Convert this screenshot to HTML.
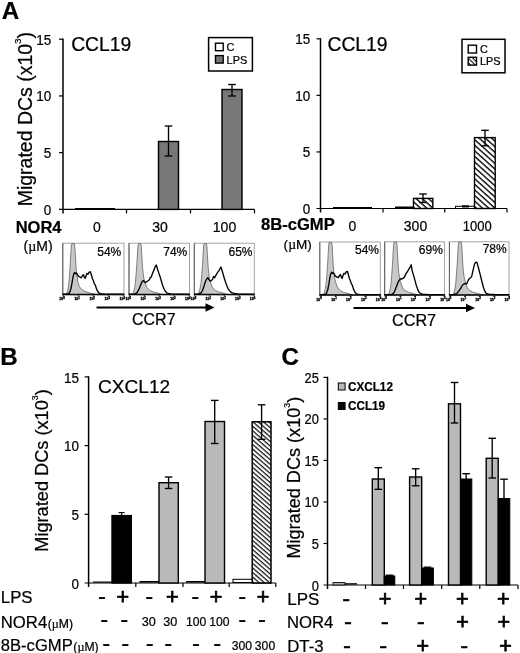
<!DOCTYPE html>
<html><head><meta charset="utf-8"><title>Figure</title>
<style>
html,body{margin:0;padding:0;background:#fff;}
svg{display:block;font-family:"Liberation Sans", Arial, sans-serif;fill:#000;filter:grayscale(1);}
text{stroke:#000;stroke-width:0.22px;}
</style></head><body>
<svg width="520" height="653" viewBox="0 0 520 653">
<rect x="0" y="0" width="520" height="653" fill="#fff" stroke="none"/>
<defs>
<pattern id="hatch" patternUnits="userSpaceOnUse" width="8" height="4.15" patternTransform="rotate(42) translate(0,1.2)">
<rect x="0" y="0" width="8" height="4.15" fill="#fff"/>
<rect x="0" y="0" width="8" height="1.45" fill="#111"/>
</pattern>
<pattern id="hatchB" patternUnits="userSpaceOnUse" width="8" height="3.45" patternTransform="rotate(41)">
<rect x="0" y="0" width="8" height="3.45" fill="#fff"/>
<rect x="0" y="0" width="8" height="1.25" fill="#111"/>
</pattern>
<pattern id="hatchL" patternUnits="userSpaceOnUse" width="8" height="3.2" patternTransform="rotate(45) translate(0,0.6)">
<rect x="0" y="0" width="8" height="3.2" fill="#fff"/>
<rect x="0" y="0" width="8" height="1.1" fill="#111"/>
</pattern>
</defs>
<text x="1.7" y="19.4" font-size="24.2" font-weight="bold">A</text>
<text x="0.3" y="364.5" font-size="24.2" font-weight="bold">B</text>
<text x="281.4" y="364.8" font-size="24.2" font-weight="bold">C</text>
<line x1="63" y1="38.6" x2="63" y2="213.4" stroke="#000" stroke-width="1.5"/>
<line x1="59" y1="209.4" x2="254.5" y2="209.4" stroke="#000" stroke-width="1.2"/>
<line x1="59" y1="152.66666666666669" x2="63" y2="152.66666666666669" stroke="#000" stroke-width="1.2"/>
<line x1="59" y1="95.93333333333334" x2="63" y2="95.93333333333334" stroke="#000" stroke-width="1.2"/>
<line x1="59" y1="39.20000000000002" x2="63" y2="39.20000000000002" stroke="#000" stroke-width="1.2"/>
<line x1="126.5" y1="209.4" x2="126.5" y2="213.4" stroke="#000" stroke-width="1.2"/>
<line x1="190.5" y1="209.4" x2="190.5" y2="213.4" stroke="#000" stroke-width="1.2"/>
<line x1="254.5" y1="209.4" x2="254.5" y2="213.4" stroke="#000" stroke-width="1.2"/>
<text transform="translate(51.3,214.8) scale(0.95,1)" font-size="14.2" text-anchor="end">0</text>
<text transform="translate(51.3,158.0666666666667) scale(0.95,1)" font-size="14.2" text-anchor="end">5</text>
<text transform="translate(51.3,101.33333333333334) scale(0.95,1)" font-size="14.2" text-anchor="end">10</text>
<text transform="translate(51.3,44.600000000000016) scale(0.95,1)" font-size="14.2" text-anchor="end">15</text>
<text transform="translate(32,119.2) rotate(-90)" font-size="19.5" text-anchor="middle">Migrated DCs (x10<tspan dy="-10.7" font-size="9.4">3</tspan><tspan dy="10.7">)</tspan></text>
<text x="71.2" y="51.2" font-size="19.3" text-anchor="start" font-weight="normal" >CCL19</text>
<rect x="208.60" y="37.60" width="43.80" height="33.40" fill="#fff" stroke="#000" stroke-width="1.5"/>
<rect x="215.50" y="43.20" width="7.70" height="7.50" fill="#fff" stroke="#000" stroke-width="1.4"/>
<rect x="215.50" y="55.60" width="7.70" height="7.50" fill="#777777" stroke="#000" stroke-width="1.4"/>
<text x="226.6" y="50.7" font-size="10.9" text-anchor="start" font-weight="normal" >C</text>
<text x="226.6" y="63.5" font-size="10.9" text-anchor="start" font-weight="normal" >LPS</text>
<rect x="158.50" y="141.50" width="20.00" height="67.90" fill="#777777" stroke="#000" stroke-width="1.4"/>
<line x1="168.5" y1="126" x2="168.5" y2="156" stroke="#000" stroke-width="1.35"/>
<line x1="164.7" y1="126" x2="172.3" y2="126" stroke="#000" stroke-width="1.35"/>
<line x1="164.7" y1="156" x2="172.3" y2="156" stroke="#000" stroke-width="1.35"/>
<rect x="222.00" y="89.50" width="20.00" height="119.90" fill="#777777" stroke="#000" stroke-width="1.4"/>
<line x1="232" y1="84.5" x2="232" y2="96" stroke="#000" stroke-width="1.35"/>
<line x1="228.2" y1="84.5" x2="235.8" y2="84.5" stroke="#000" stroke-width="1.35"/>
<line x1="228.2" y1="96" x2="235.8" y2="96" stroke="#000" stroke-width="1.35"/>
<line x1="75" y1="208.5" x2="115" y2="208.5" stroke="#000" stroke-width="1.2"/>
<text x="15.7" y="232.8" font-size="16.5" text-anchor="start" font-weight="bold" >NOR4</text>
<text x="23.5" y="251" font-size="14" text-anchor="start" font-weight="normal" >(<tspan font-family="Liberation Serif, serif">µ</tspan>M)</text>
<text x="97" y="232.3" font-size="14" text-anchor="middle" font-weight="normal" >0</text>
<text x="160" y="232.3" font-size="14" text-anchor="middle" font-weight="normal" >30</text>
<text x="224.5" y="232.3" font-size="14" text-anchor="middle" font-weight="normal" >100</text>
<line x1="320.5" y1="38.199999999999996" x2="320.5" y2="212.5" stroke="#000" stroke-width="1.5"/>
<line x1="316.5" y1="208.5" x2="507" y2="208.5" stroke="#000" stroke-width="1.2"/>
<line x1="316.5" y1="151.93333333333334" x2="320.5" y2="151.93333333333334" stroke="#000" stroke-width="1.2"/>
<line x1="316.5" y1="95.36666666666666" x2="320.5" y2="95.36666666666666" stroke="#000" stroke-width="1.2"/>
<line x1="316.5" y1="38.80000000000001" x2="320.5" y2="38.80000000000001" stroke="#000" stroke-width="1.2"/>
<line x1="383" y1="208.5" x2="383" y2="212.5" stroke="#000" stroke-width="1.2"/>
<line x1="444.8" y1="208.5" x2="444.8" y2="212.5" stroke="#000" stroke-width="1.2"/>
<line x1="507" y1="208.5" x2="507" y2="212.5" stroke="#000" stroke-width="1.2"/>
<text transform="translate(310.2,213.7) scale(0.95,1)" font-size="14.2" text-anchor="end">0</text>
<text transform="translate(310.2,157.13333333333333) scale(0.95,1)" font-size="14.2" text-anchor="end">5</text>
<text transform="translate(310.2,100.56666666666666) scale(0.95,1)" font-size="14.2" text-anchor="end">10</text>
<text transform="translate(310.2,44.000000000000014) scale(0.95,1)" font-size="14.2" text-anchor="end">15</text>
<text x="327.5" y="51.2" font-size="19.3" text-anchor="start" font-weight="normal" >CCL19</text>
<rect x="462.00" y="39.30" width="43.00" height="33.50" fill="#fff" stroke="#000" stroke-width="1.5"/>
<rect x="468.20" y="45.20" width="8.30" height="7.80" fill="#fff" stroke="#000" stroke-width="1.4"/>
<rect x="468.20" y="57.30" width="8.30" height="7.80" fill="url(#hatchL)" stroke="#000" stroke-width="1.4"/>
<text x="480" y="52.7" font-size="10.9" text-anchor="start" font-weight="normal" >C</text>
<text x="480" y="65.2" font-size="10.9" text-anchor="start" font-weight="normal" >LPS</text>
<line x1="333" y1="207.6" x2="372" y2="207.6" stroke="#000" stroke-width="1.2"/>
<line x1="395" y1="207.3" x2="413.5" y2="207.3" stroke="#000" stroke-width="1.6"/>
<rect x="413.50" y="198.40" width="19.30" height="10.10" fill="url(#hatch)" stroke="#000" stroke-width="1.4"/>
<line x1="423" y1="194" x2="423" y2="202.5" stroke="#000" stroke-width="1.35"/>
<line x1="419.2" y1="194" x2="426.8" y2="194" stroke="#000" stroke-width="1.35"/>
<line x1="419.2" y1="202.5" x2="426.8" y2="202.5" stroke="#000" stroke-width="1.35"/>
<rect x="455.50" y="206.30" width="19.00" height="2.20" fill="#fff" stroke="#000" stroke-width="1"/>
<line x1="462" y1="206.4" x2="469" y2="206.4" stroke="#000" stroke-width="2.2"/>
<rect x="474.50" y="137.60" width="20.70" height="70.90" fill="url(#hatch)" stroke="#000" stroke-width="1.4"/>
<line x1="485" y1="130.3" x2="485" y2="145.8" stroke="#000" stroke-width="1.35"/>
<line x1="481.2" y1="130.3" x2="488.8" y2="130.3" stroke="#000" stroke-width="1.35"/>
<line x1="481.2" y1="145.8" x2="488.8" y2="145.8" stroke="#000" stroke-width="1.35"/>
<rect x="62.8" y="243.2" width="61.2" height="51.3" fill="#fff" stroke="#9a9a9a" stroke-width="0.9"/>
<line x1="62.8" y1="243.2" x2="62.8" y2="294.5" stroke="#5a5a5a" stroke-width="1.0"/>
<polygon points="65.3,294.5 66.8,293.5 68.0,289.2 68.8,283.8 69.6,274.2 70.2,265.0 70.8,254.2 71.3,246.2 71.8,243.6 74.4,243.6 74.8,246.2 75.4,255.2 75.9,265.2 76.5,271.7 77.2,277.2 78.0,282.2 79.4,286.7 81.4,289.0 84.8,291.4 88.8,292.8 92.4,293.5 95.8,294.5" fill="#c8c8c8" stroke="#5c5c5c" stroke-width="0.75"/>
<polyline points="62.8,294.1 67.8,293.8 69.3,293.2 70.8,289.2 71.8,284.2 72.8,278.2 73.7,274.2 74.6,272.4 75.4,273.7 76.2,273.0 77.3,274.2 78.3,276.2 79.8,277.0 81.3,277.8 82.4,275.7 83.4,274.7 84.4,277.4 85.2,278.4 86.0,275.7 87.0,273.5 88.0,274.2 89.1,272.2 90.4,271.8 91.2,274.2 92.4,278.5 93.4,280.7 94.4,283.8 95.4,285.2 96.4,288.6 97.4,290.7 98.5,292.6 100.3,293.6 102.8,294.0 123.8,294.1" fill="none" stroke="#000" stroke-width="1.35" stroke-linejoin="round"/>
<line x1="62.3" y1="294.5" x2="124.5" y2="294.5" stroke="#000" stroke-width="1.3"/>
<line x1="63.3" y1="294.5" x2="63.3" y2="296.5" stroke="#222" stroke-width="0.9"/>
<text x="62.099999999999994" y="300.3" font-size="3.5" font-weight="bold" text-anchor="middle" fill="#000" style="stroke-width:0.3px">10<tspan dy="-1.6" font-size="2.8">0</tspan></text>
<line x1="78.35" y1="294.5" x2="78.35" y2="296.5" stroke="#222" stroke-width="0.9"/>
<text x="77.14999999999999" y="300.3" font-size="3.5" font-weight="bold" text-anchor="middle" fill="#000" style="stroke-width:0.3px">10<tspan dy="-1.6" font-size="2.8">1</tspan></text>
<line x1="93.4" y1="294.5" x2="93.4" y2="296.5" stroke="#222" stroke-width="0.9"/>
<text x="92.2" y="300.3" font-size="3.5" font-weight="bold" text-anchor="middle" fill="#000" style="stroke-width:0.3px">10<tspan dy="-1.6" font-size="2.8">2</tspan></text>
<line x1="108.45" y1="294.5" x2="108.45" y2="296.5" stroke="#222" stroke-width="0.9"/>
<text x="107.25" y="300.3" font-size="3.5" font-weight="bold" text-anchor="middle" fill="#000" style="stroke-width:0.3px">10<tspan dy="-1.6" font-size="2.8">3</tspan></text>
<line x1="123.5" y1="294.5" x2="123.5" y2="296.5" stroke="#222" stroke-width="0.9"/>
<text x="122.3" y="300.3" font-size="3.5" font-weight="bold" text-anchor="middle" fill="#000" style="stroke-width:0.3px">10<tspan dy="-1.6" font-size="2.8">4</tspan></text>
<line x1="67.815" y1="294.5" x2="67.815" y2="295.6" stroke="#555" stroke-width="0.4"/>
<line x1="70.524" y1="294.5" x2="70.524" y2="295.6" stroke="#555" stroke-width="0.4"/>
<line x1="72.33" y1="294.5" x2="72.33" y2="295.6" stroke="#555" stroke-width="0.4"/>
<line x1="73.835" y1="294.5" x2="73.835" y2="295.6" stroke="#555" stroke-width="0.4"/>
<line x1="75.039" y1="294.5" x2="75.039" y2="295.6" stroke="#555" stroke-width="0.4"/>
<line x1="76.0925" y1="294.5" x2="76.0925" y2="295.6" stroke="#555" stroke-width="0.4"/>
<line x1="76.845" y1="294.5" x2="76.845" y2="295.6" stroke="#555" stroke-width="0.4"/>
<line x1="77.5975" y1="294.5" x2="77.5975" y2="295.6" stroke="#555" stroke-width="0.4"/>
<line x1="82.865" y1="294.5" x2="82.865" y2="295.6" stroke="#555" stroke-width="0.4"/>
<line x1="85.574" y1="294.5" x2="85.574" y2="295.6" stroke="#555" stroke-width="0.4"/>
<line x1="87.38" y1="294.5" x2="87.38" y2="295.6" stroke="#555" stroke-width="0.4"/>
<line x1="88.88499999999999" y1="294.5" x2="88.88499999999999" y2="295.6" stroke="#555" stroke-width="0.4"/>
<line x1="90.089" y1="294.5" x2="90.089" y2="295.6" stroke="#555" stroke-width="0.4"/>
<line x1="91.1425" y1="294.5" x2="91.1425" y2="295.6" stroke="#555" stroke-width="0.4"/>
<line x1="91.895" y1="294.5" x2="91.895" y2="295.6" stroke="#555" stroke-width="0.4"/>
<line x1="92.6475" y1="294.5" x2="92.6475" y2="295.6" stroke="#555" stroke-width="0.4"/>
<line x1="97.91499999999999" y1="294.5" x2="97.91499999999999" y2="295.6" stroke="#555" stroke-width="0.4"/>
<line x1="100.624" y1="294.5" x2="100.624" y2="295.6" stroke="#555" stroke-width="0.4"/>
<line x1="102.43" y1="294.5" x2="102.43" y2="295.6" stroke="#555" stroke-width="0.4"/>
<line x1="103.935" y1="294.5" x2="103.935" y2="295.6" stroke="#555" stroke-width="0.4"/>
<line x1="105.13900000000001" y1="294.5" x2="105.13900000000001" y2="295.6" stroke="#555" stroke-width="0.4"/>
<line x1="106.1925" y1="294.5" x2="106.1925" y2="295.6" stroke="#555" stroke-width="0.4"/>
<line x1="106.945" y1="294.5" x2="106.945" y2="295.6" stroke="#555" stroke-width="0.4"/>
<line x1="107.6975" y1="294.5" x2="107.6975" y2="295.6" stroke="#555" stroke-width="0.4"/>
<line x1="112.965" y1="294.5" x2="112.965" y2="295.6" stroke="#555" stroke-width="0.4"/>
<line x1="115.674" y1="294.5" x2="115.674" y2="295.6" stroke="#555" stroke-width="0.4"/>
<line x1="117.48" y1="294.5" x2="117.48" y2="295.6" stroke="#555" stroke-width="0.4"/>
<line x1="118.985" y1="294.5" x2="118.985" y2="295.6" stroke="#555" stroke-width="0.4"/>
<line x1="120.189" y1="294.5" x2="120.189" y2="295.6" stroke="#555" stroke-width="0.4"/>
<line x1="121.2425" y1="294.5" x2="121.2425" y2="295.6" stroke="#555" stroke-width="0.4"/>
<line x1="121.995" y1="294.5" x2="121.995" y2="295.6" stroke="#555" stroke-width="0.4"/>
<line x1="122.7475" y1="294.5" x2="122.7475" y2="295.6" stroke="#555" stroke-width="0.4"/>
<text x="121.3" y="255.6" font-size="12" text-anchor="end" font-weight="normal" >54%</text>
<rect x="129" y="243.2" width="60.5" height="51.3" fill="#fff" stroke="#9a9a9a" stroke-width="0.9"/>
<line x1="129" y1="243.2" x2="129" y2="294.5" stroke="#5a5a5a" stroke-width="1.0"/>
<polygon points="131.5,294.5 133.0,293.5 134.4,289.2 135.3,283.8 136.1,274.2 136.8,265.0 137.4,254.2 137.9,246.2 138.4,243.6 140.8,243.6 141.3,246.2 141.8,255.2 142.4,265.2 143.1,273.2 144.1,279.2 145.2,283.2 147.0,287.7 149.4,290.2 153.0,292.0 156.0,292.7 159.0,293.5 162.0,294.5" fill="#c8c8c8" stroke="#5c5c5c" stroke-width="0.75"/>
<polyline points="129.0,294.1 135.0,293.8 137.0,292.7 138.5,290.2 139.8,287.2 141.1,283.8 142.3,281.4 143.5,280.4 144.4,282.0 145.4,282.6 146.6,281.7 148.0,280.8 149.4,279.8 150.2,277.7 151.2,277.1 152.2,274.2 153.2,271.7 154.2,269.2 155.2,266.7 156.2,265.0 157.0,267.2 157.9,270.4 159.0,273.8 160.2,277.1 161.4,281.2 162.6,285.2 164.0,288.7 165.3,291.2 166.8,292.8 168.0,293.5 171.0,293.9 189.5,294.1" fill="none" stroke="#000" stroke-width="1.35" stroke-linejoin="round"/>
<line x1="128.5" y1="294.5" x2="190.0" y2="294.5" stroke="#000" stroke-width="1.3"/>
<line x1="129.5" y1="294.5" x2="129.5" y2="296.5" stroke="#222" stroke-width="0.9"/>
<text x="128.3" y="300.3" font-size="3.5" font-weight="bold" text-anchor="middle" fill="#000" style="stroke-width:0.3px">10<tspan dy="-1.6" font-size="2.8">0</tspan></text>
<line x1="144.375" y1="294.5" x2="144.375" y2="296.5" stroke="#222" stroke-width="0.9"/>
<text x="143.175" y="300.3" font-size="3.5" font-weight="bold" text-anchor="middle" fill="#000" style="stroke-width:0.3px">10<tspan dy="-1.6" font-size="2.8">1</tspan></text>
<line x1="159.25" y1="294.5" x2="159.25" y2="296.5" stroke="#222" stroke-width="0.9"/>
<text x="158.05" y="300.3" font-size="3.5" font-weight="bold" text-anchor="middle" fill="#000" style="stroke-width:0.3px">10<tspan dy="-1.6" font-size="2.8">2</tspan></text>
<line x1="174.125" y1="294.5" x2="174.125" y2="296.5" stroke="#222" stroke-width="0.9"/>
<text x="172.925" y="300.3" font-size="3.5" font-weight="bold" text-anchor="middle" fill="#000" style="stroke-width:0.3px">10<tspan dy="-1.6" font-size="2.8">3</tspan></text>
<line x1="189.0" y1="294.5" x2="189.0" y2="296.5" stroke="#222" stroke-width="0.9"/>
<text x="187.8" y="300.3" font-size="3.5" font-weight="bold" text-anchor="middle" fill="#000" style="stroke-width:0.3px">10<tspan dy="-1.6" font-size="2.8">4</tspan></text>
<line x1="133.9625" y1="294.5" x2="133.9625" y2="295.6" stroke="#555" stroke-width="0.4"/>
<line x1="136.64" y1="294.5" x2="136.64" y2="295.6" stroke="#555" stroke-width="0.4"/>
<line x1="138.425" y1="294.5" x2="138.425" y2="295.6" stroke="#555" stroke-width="0.4"/>
<line x1="139.9125" y1="294.5" x2="139.9125" y2="295.6" stroke="#555" stroke-width="0.4"/>
<line x1="141.1025" y1="294.5" x2="141.1025" y2="295.6" stroke="#555" stroke-width="0.4"/>
<line x1="142.14375" y1="294.5" x2="142.14375" y2="295.6" stroke="#555" stroke-width="0.4"/>
<line x1="142.8875" y1="294.5" x2="142.8875" y2="295.6" stroke="#555" stroke-width="0.4"/>
<line x1="143.63125" y1="294.5" x2="143.63125" y2="295.6" stroke="#555" stroke-width="0.4"/>
<line x1="148.8375" y1="294.5" x2="148.8375" y2="295.6" stroke="#555" stroke-width="0.4"/>
<line x1="151.515" y1="294.5" x2="151.515" y2="295.6" stroke="#555" stroke-width="0.4"/>
<line x1="153.3" y1="294.5" x2="153.3" y2="295.6" stroke="#555" stroke-width="0.4"/>
<line x1="154.7875" y1="294.5" x2="154.7875" y2="295.6" stroke="#555" stroke-width="0.4"/>
<line x1="155.9775" y1="294.5" x2="155.9775" y2="295.6" stroke="#555" stroke-width="0.4"/>
<line x1="157.01875" y1="294.5" x2="157.01875" y2="295.6" stroke="#555" stroke-width="0.4"/>
<line x1="157.7625" y1="294.5" x2="157.7625" y2="295.6" stroke="#555" stroke-width="0.4"/>
<line x1="158.50625" y1="294.5" x2="158.50625" y2="295.6" stroke="#555" stroke-width="0.4"/>
<line x1="163.7125" y1="294.5" x2="163.7125" y2="295.6" stroke="#555" stroke-width="0.4"/>
<line x1="166.39" y1="294.5" x2="166.39" y2="295.6" stroke="#555" stroke-width="0.4"/>
<line x1="168.175" y1="294.5" x2="168.175" y2="295.6" stroke="#555" stroke-width="0.4"/>
<line x1="169.6625" y1="294.5" x2="169.6625" y2="295.6" stroke="#555" stroke-width="0.4"/>
<line x1="170.85250000000002" y1="294.5" x2="170.85250000000002" y2="295.6" stroke="#555" stroke-width="0.4"/>
<line x1="171.89375" y1="294.5" x2="171.89375" y2="295.6" stroke="#555" stroke-width="0.4"/>
<line x1="172.6375" y1="294.5" x2="172.6375" y2="295.6" stroke="#555" stroke-width="0.4"/>
<line x1="173.38125" y1="294.5" x2="173.38125" y2="295.6" stroke="#555" stroke-width="0.4"/>
<line x1="178.5875" y1="294.5" x2="178.5875" y2="295.6" stroke="#555" stroke-width="0.4"/>
<line x1="181.265" y1="294.5" x2="181.265" y2="295.6" stroke="#555" stroke-width="0.4"/>
<line x1="183.05" y1="294.5" x2="183.05" y2="295.6" stroke="#555" stroke-width="0.4"/>
<line x1="184.5375" y1="294.5" x2="184.5375" y2="295.6" stroke="#555" stroke-width="0.4"/>
<line x1="185.72750000000002" y1="294.5" x2="185.72750000000002" y2="295.6" stroke="#555" stroke-width="0.4"/>
<line x1="186.76875" y1="294.5" x2="186.76875" y2="295.6" stroke="#555" stroke-width="0.4"/>
<line x1="187.5125" y1="294.5" x2="187.5125" y2="295.6" stroke="#555" stroke-width="0.4"/>
<line x1="188.25625" y1="294.5" x2="188.25625" y2="295.6" stroke="#555" stroke-width="0.4"/>
<text x="187.3" y="255.6" font-size="12" text-anchor="end" font-weight="normal" >74%</text>
<rect x="194.3" y="243.2" width="60" height="51.3" fill="#fff" stroke="#9a9a9a" stroke-width="0.9"/>
<line x1="194.3" y1="243.2" x2="194.3" y2="294.5" stroke="#5a5a5a" stroke-width="1.0"/>
<polygon points="196.8,294.5 198.5,293.5 199.9,289.2 200.9,283.8 201.8,274.2 202.5,265.0 203.1,254.2 203.6,246.2 204.1,243.6 206.4,243.6 206.9,246.2 207.4,255.2 208.0,265.2 208.7,273.2 209.7,279.2 210.8,283.2 212.5,287.7 214.8,290.2 218.3,292.0 221.3,292.4 224.3,293.5 227.3,294.5" fill="#c8c8c8" stroke="#5c5c5c" stroke-width="0.75"/>
<polyline points="194.3,294.1 199.3,293.8 201.3,292.7 202.8,289.7 204.1,285.7 205.5,281.2 206.7,279.0 207.9,277.8 208.8,279.4 210.2,281.2 211.3,280.6 212.5,279.6 213.5,276.4 214.5,277.8 215.5,276.2 216.6,274.2 217.6,272.4 218.8,270.8 219.8,269.0 220.9,267.0 221.9,270.0 223.0,273.8 224.3,278.2 225.7,282.5 226.9,285.8 228.3,289.2 229.9,291.2 231.7,292.6 234.3,293.4 237.3,293.9 254.3,294.1" fill="none" stroke="#000" stroke-width="1.35" stroke-linejoin="round"/>
<line x1="193.8" y1="294.5" x2="254.8" y2="294.5" stroke="#000" stroke-width="1.3"/>
<line x1="194.8" y1="294.5" x2="194.8" y2="296.5" stroke="#222" stroke-width="0.9"/>
<text x="193.60000000000002" y="300.3" font-size="3.5" font-weight="bold" text-anchor="middle" fill="#000" style="stroke-width:0.3px">10<tspan dy="-1.6" font-size="2.8">0</tspan></text>
<line x1="209.55" y1="294.5" x2="209.55" y2="296.5" stroke="#222" stroke-width="0.9"/>
<text x="208.35000000000002" y="300.3" font-size="3.5" font-weight="bold" text-anchor="middle" fill="#000" style="stroke-width:0.3px">10<tspan dy="-1.6" font-size="2.8">1</tspan></text>
<line x1="224.3" y1="294.5" x2="224.3" y2="296.5" stroke="#222" stroke-width="0.9"/>
<text x="223.10000000000002" y="300.3" font-size="3.5" font-weight="bold" text-anchor="middle" fill="#000" style="stroke-width:0.3px">10<tspan dy="-1.6" font-size="2.8">2</tspan></text>
<line x1="239.05" y1="294.5" x2="239.05" y2="296.5" stroke="#222" stroke-width="0.9"/>
<text x="237.85000000000002" y="300.3" font-size="3.5" font-weight="bold" text-anchor="middle" fill="#000" style="stroke-width:0.3px">10<tspan dy="-1.6" font-size="2.8">3</tspan></text>
<line x1="253.8" y1="294.5" x2="253.8" y2="296.5" stroke="#222" stroke-width="0.9"/>
<text x="252.60000000000002" y="300.3" font-size="3.5" font-weight="bold" text-anchor="middle" fill="#000" style="stroke-width:0.3px">10<tspan dy="-1.6" font-size="2.8">4</tspan></text>
<line x1="199.22500000000002" y1="294.5" x2="199.22500000000002" y2="295.6" stroke="#555" stroke-width="0.4"/>
<line x1="201.88000000000002" y1="294.5" x2="201.88000000000002" y2="295.6" stroke="#555" stroke-width="0.4"/>
<line x1="203.65" y1="294.5" x2="203.65" y2="295.6" stroke="#555" stroke-width="0.4"/>
<line x1="205.125" y1="294.5" x2="205.125" y2="295.6" stroke="#555" stroke-width="0.4"/>
<line x1="206.305" y1="294.5" x2="206.305" y2="295.6" stroke="#555" stroke-width="0.4"/>
<line x1="207.3375" y1="294.5" x2="207.3375" y2="295.6" stroke="#555" stroke-width="0.4"/>
<line x1="208.07500000000002" y1="294.5" x2="208.07500000000002" y2="295.6" stroke="#555" stroke-width="0.4"/>
<line x1="208.8125" y1="294.5" x2="208.8125" y2="295.6" stroke="#555" stroke-width="0.4"/>
<line x1="213.97500000000002" y1="294.5" x2="213.97500000000002" y2="295.6" stroke="#555" stroke-width="0.4"/>
<line x1="216.63" y1="294.5" x2="216.63" y2="295.6" stroke="#555" stroke-width="0.4"/>
<line x1="218.4" y1="294.5" x2="218.4" y2="295.6" stroke="#555" stroke-width="0.4"/>
<line x1="219.875" y1="294.5" x2="219.875" y2="295.6" stroke="#555" stroke-width="0.4"/>
<line x1="221.055" y1="294.5" x2="221.055" y2="295.6" stroke="#555" stroke-width="0.4"/>
<line x1="222.0875" y1="294.5" x2="222.0875" y2="295.6" stroke="#555" stroke-width="0.4"/>
<line x1="222.82500000000002" y1="294.5" x2="222.82500000000002" y2="295.6" stroke="#555" stroke-width="0.4"/>
<line x1="223.5625" y1="294.5" x2="223.5625" y2="295.6" stroke="#555" stroke-width="0.4"/>
<line x1="228.72500000000002" y1="294.5" x2="228.72500000000002" y2="295.6" stroke="#555" stroke-width="0.4"/>
<line x1="231.38" y1="294.5" x2="231.38" y2="295.6" stroke="#555" stroke-width="0.4"/>
<line x1="233.15" y1="294.5" x2="233.15" y2="295.6" stroke="#555" stroke-width="0.4"/>
<line x1="234.625" y1="294.5" x2="234.625" y2="295.6" stroke="#555" stroke-width="0.4"/>
<line x1="235.805" y1="294.5" x2="235.805" y2="295.6" stroke="#555" stroke-width="0.4"/>
<line x1="236.8375" y1="294.5" x2="236.8375" y2="295.6" stroke="#555" stroke-width="0.4"/>
<line x1="237.57500000000002" y1="294.5" x2="237.57500000000002" y2="295.6" stroke="#555" stroke-width="0.4"/>
<line x1="238.3125" y1="294.5" x2="238.3125" y2="295.6" stroke="#555" stroke-width="0.4"/>
<line x1="243.47500000000002" y1="294.5" x2="243.47500000000002" y2="295.6" stroke="#555" stroke-width="0.4"/>
<line x1="246.13" y1="294.5" x2="246.13" y2="295.6" stroke="#555" stroke-width="0.4"/>
<line x1="247.9" y1="294.5" x2="247.9" y2="295.6" stroke="#555" stroke-width="0.4"/>
<line x1="249.375" y1="294.5" x2="249.375" y2="295.6" stroke="#555" stroke-width="0.4"/>
<line x1="250.555" y1="294.5" x2="250.555" y2="295.6" stroke="#555" stroke-width="0.4"/>
<line x1="251.5875" y1="294.5" x2="251.5875" y2="295.6" stroke="#555" stroke-width="0.4"/>
<line x1="252.32500000000002" y1="294.5" x2="252.32500000000002" y2="295.6" stroke="#555" stroke-width="0.4"/>
<line x1="253.0625" y1="294.5" x2="253.0625" y2="295.6" stroke="#555" stroke-width="0.4"/>
<text x="252.5" y="255.6" font-size="12" text-anchor="end" font-weight="normal" >65%</text>
<line x1="96.5" y1="307.5" x2="208.5" y2="307.5" stroke="#000" stroke-width="1.8"/>
<polygon points="214.5,307.5 205.5,303.3 205.5,311.7" fill="#000"/>
<text x="132" y="325" font-size="16" text-anchor="start" font-weight="normal" >CCR7</text>
<text x="261" y="229.9" font-size="16.6" text-anchor="start" font-weight="bold" >8B-cGMP</text>
<text x="283.6" y="248.8" font-size="13.6" text-anchor="start" font-weight="normal" >(<tspan font-family="Liberation Serif, serif">µ</tspan>M)</text>
<text x="352.5" y="230.8" font-size="14" text-anchor="middle" font-weight="normal" >0</text>
<text x="415.5" y="230.8" font-size="14" text-anchor="middle" font-weight="normal" >300</text>
<text transform="translate(477.2,230.8) scale(0.93,1)" font-size="14" text-anchor="middle">1000</text>
<rect x="319.8" y="242" width="60.5" height="53" fill="#fff" stroke="#9a9a9a" stroke-width="0.9"/>
<line x1="319.8" y1="242" x2="319.8" y2="295" stroke="#5a5a5a" stroke-width="1.0"/>
<polygon points="322.3,295.0 323.8,294.0 325.2,289.5 326.1,283.9 326.9,274.0 327.6,264.5 328.2,253.4 328.7,245.1 329.2,242.4 331.6,242.4 332.1,245.1 332.6,254.4 333.2,264.7 333.9,273.0 334.9,279.2 336.0,283.3 337.8,288.0 340.2,290.6 343.8,292.4 346.8,293.1 349.8,294.0 352.8,295.0" fill="#c8c8c8" stroke="#5c5c5c" stroke-width="0.75"/>
<polyline points="319.8,294.6 324.8,294.3 326.3,293.7 327.8,289.5 328.8,284.4 329.8,278.2 330.7,274.0 331.6,272.2 332.4,273.5 333.2,272.8 334.3,274.0 335.3,276.1 336.8,276.9 338.3,277.7 339.4,275.6 340.4,274.5 341.4,277.3 342.2,278.4 343.0,275.6 344.0,273.3 345.0,274.0 346.1,272.0 347.4,271.5 348.2,274.0 349.4,278.5 350.4,280.7 351.4,283.9 352.4,285.4 353.4,288.9 354.4,291.1 355.5,293.0 357.3,294.1 359.8,294.5 380.8,294.6" fill="none" stroke="#000" stroke-width="1.35" stroke-linejoin="round"/>
<line x1="319.3" y1="295" x2="380.8" y2="295" stroke="#000" stroke-width="1.3"/>
<line x1="320.3" y1="295" x2="320.3" y2="297" stroke="#222" stroke-width="0.9"/>
<text x="319.1" y="300.8" font-size="3.5" font-weight="bold" text-anchor="middle" fill="#000" style="stroke-width:0.3px">10<tspan dy="-1.6" font-size="2.8">0</tspan></text>
<line x1="335.175" y1="295" x2="335.175" y2="297" stroke="#222" stroke-width="0.9"/>
<text x="333.975" y="300.8" font-size="3.5" font-weight="bold" text-anchor="middle" fill="#000" style="stroke-width:0.3px">10<tspan dy="-1.6" font-size="2.8">1</tspan></text>
<line x1="350.05" y1="295" x2="350.05" y2="297" stroke="#222" stroke-width="0.9"/>
<text x="348.85" y="300.8" font-size="3.5" font-weight="bold" text-anchor="middle" fill="#000" style="stroke-width:0.3px">10<tspan dy="-1.6" font-size="2.8">2</tspan></text>
<line x1="364.925" y1="295" x2="364.925" y2="297" stroke="#222" stroke-width="0.9"/>
<text x="363.725" y="300.8" font-size="3.5" font-weight="bold" text-anchor="middle" fill="#000" style="stroke-width:0.3px">10<tspan dy="-1.6" font-size="2.8">3</tspan></text>
<line x1="379.8" y1="295" x2="379.8" y2="297" stroke="#222" stroke-width="0.9"/>
<text x="378.6" y="300.8" font-size="3.5" font-weight="bold" text-anchor="middle" fill="#000" style="stroke-width:0.3px">10<tspan dy="-1.6" font-size="2.8">4</tspan></text>
<line x1="324.7625" y1="295" x2="324.7625" y2="296.1" stroke="#555" stroke-width="0.4"/>
<line x1="327.44" y1="295" x2="327.44" y2="296.1" stroke="#555" stroke-width="0.4"/>
<line x1="329.225" y1="295" x2="329.225" y2="296.1" stroke="#555" stroke-width="0.4"/>
<line x1="330.71250000000003" y1="295" x2="330.71250000000003" y2="296.1" stroke="#555" stroke-width="0.4"/>
<line x1="331.90250000000003" y1="295" x2="331.90250000000003" y2="296.1" stroke="#555" stroke-width="0.4"/>
<line x1="332.94375" y1="295" x2="332.94375" y2="296.1" stroke="#555" stroke-width="0.4"/>
<line x1="333.6875" y1="295" x2="333.6875" y2="296.1" stroke="#555" stroke-width="0.4"/>
<line x1="334.43125000000003" y1="295" x2="334.43125000000003" y2="296.1" stroke="#555" stroke-width="0.4"/>
<line x1="339.6375" y1="295" x2="339.6375" y2="296.1" stroke="#555" stroke-width="0.4"/>
<line x1="342.315" y1="295" x2="342.315" y2="296.1" stroke="#555" stroke-width="0.4"/>
<line x1="344.1" y1="295" x2="344.1" y2="296.1" stroke="#555" stroke-width="0.4"/>
<line x1="345.58750000000003" y1="295" x2="345.58750000000003" y2="296.1" stroke="#555" stroke-width="0.4"/>
<line x1="346.77750000000003" y1="295" x2="346.77750000000003" y2="296.1" stroke="#555" stroke-width="0.4"/>
<line x1="347.81875" y1="295" x2="347.81875" y2="296.1" stroke="#555" stroke-width="0.4"/>
<line x1="348.5625" y1="295" x2="348.5625" y2="296.1" stroke="#555" stroke-width="0.4"/>
<line x1="349.30625000000003" y1="295" x2="349.30625000000003" y2="296.1" stroke="#555" stroke-width="0.4"/>
<line x1="354.5125" y1="295" x2="354.5125" y2="296.1" stroke="#555" stroke-width="0.4"/>
<line x1="357.19" y1="295" x2="357.19" y2="296.1" stroke="#555" stroke-width="0.4"/>
<line x1="358.975" y1="295" x2="358.975" y2="296.1" stroke="#555" stroke-width="0.4"/>
<line x1="360.46250000000003" y1="295" x2="360.46250000000003" y2="296.1" stroke="#555" stroke-width="0.4"/>
<line x1="361.65250000000003" y1="295" x2="361.65250000000003" y2="296.1" stroke="#555" stroke-width="0.4"/>
<line x1="362.69375" y1="295" x2="362.69375" y2="296.1" stroke="#555" stroke-width="0.4"/>
<line x1="363.4375" y1="295" x2="363.4375" y2="296.1" stroke="#555" stroke-width="0.4"/>
<line x1="364.18125000000003" y1="295" x2="364.18125000000003" y2="296.1" stroke="#555" stroke-width="0.4"/>
<line x1="369.3875" y1="295" x2="369.3875" y2="296.1" stroke="#555" stroke-width="0.4"/>
<line x1="372.065" y1="295" x2="372.065" y2="296.1" stroke="#555" stroke-width="0.4"/>
<line x1="373.85" y1="295" x2="373.85" y2="296.1" stroke="#555" stroke-width="0.4"/>
<line x1="375.33750000000003" y1="295" x2="375.33750000000003" y2="296.1" stroke="#555" stroke-width="0.4"/>
<line x1="376.52750000000003" y1="295" x2="376.52750000000003" y2="296.1" stroke="#555" stroke-width="0.4"/>
<line x1="377.56875" y1="295" x2="377.56875" y2="296.1" stroke="#555" stroke-width="0.4"/>
<line x1="378.3125" y1="295" x2="378.3125" y2="296.1" stroke="#555" stroke-width="0.4"/>
<line x1="379.05625000000003" y1="295" x2="379.05625000000003" y2="296.1" stroke="#555" stroke-width="0.4"/>
<text x="379" y="253.6" font-size="12" text-anchor="end" font-weight="normal" >54%</text>
<rect x="384.7" y="241.8" width="59.9" height="53.2" fill="#fff" stroke="#9a9a9a" stroke-width="0.9"/>
<line x1="384.7" y1="241.8" x2="384.7" y2="295.0" stroke="#5a5a5a" stroke-width="1.0"/>
<polygon points="387.2,295.0 388.7,294.0 390.1,289.5 391.0,283.9 391.8,273.9 392.5,264.4 393.1,253.2 393.6,244.9 394.1,242.2 396.5,242.2 397.0,244.9 397.5,254.2 398.1,264.6 398.8,272.9 399.8,279.1 400.9,283.3 402.7,287.9 405.1,290.5 408.7,292.4 411.7,293.1 414.7,294.0 417.7,295.0" fill="#c8c8c8" stroke="#5c5c5c" stroke-width="0.75"/>
<polyline points="384.7,294.6 391.4,294.3 393.4,293.4 394.7,291.1 396.1,287.4 397.5,283.8 398.8,280.8 399.9,279.3 400.9,278.7 402.1,279.1 403.3,278.1 404.2,277.4 405.2,275.4 406.2,273.3 407.5,271.5 408.9,269.2 410.1,267.1 411.2,264.8 411.7,267.7 412.3,271.3 413.3,274.6 414.3,277.9 415.3,281.6 416.3,285.5 417.3,288.3 418.3,290.9 419.3,292.4 420.4,293.4 422.7,294.3 427.7,294.5 444.6,294.6" fill="none" stroke="#000" stroke-width="1.35" stroke-linejoin="round"/>
<line x1="384.2" y1="295.0" x2="445.09999999999997" y2="295.0" stroke="#000" stroke-width="1.3"/>
<line x1="385.2" y1="295.0" x2="385.2" y2="297.0" stroke="#222" stroke-width="0.9"/>
<text x="384.0" y="300.8" font-size="3.5" font-weight="bold" text-anchor="middle" fill="#000" style="stroke-width:0.3px">10<tspan dy="-1.6" font-size="2.8">0</tspan></text>
<line x1="399.925" y1="295.0" x2="399.925" y2="297.0" stroke="#222" stroke-width="0.9"/>
<text x="398.725" y="300.8" font-size="3.5" font-weight="bold" text-anchor="middle" fill="#000" style="stroke-width:0.3px">10<tspan dy="-1.6" font-size="2.8">1</tspan></text>
<line x1="414.65" y1="295.0" x2="414.65" y2="297.0" stroke="#222" stroke-width="0.9"/>
<text x="413.45" y="300.8" font-size="3.5" font-weight="bold" text-anchor="middle" fill="#000" style="stroke-width:0.3px">10<tspan dy="-1.6" font-size="2.8">2</tspan></text>
<line x1="429.375" y1="295.0" x2="429.375" y2="297.0" stroke="#222" stroke-width="0.9"/>
<text x="428.175" y="300.8" font-size="3.5" font-weight="bold" text-anchor="middle" fill="#000" style="stroke-width:0.3px">10<tspan dy="-1.6" font-size="2.8">3</tspan></text>
<line x1="444.09999999999997" y1="295.0" x2="444.09999999999997" y2="297.0" stroke="#222" stroke-width="0.9"/>
<text x="442.9" y="300.8" font-size="3.5" font-weight="bold" text-anchor="middle" fill="#000" style="stroke-width:0.3px">10<tspan dy="-1.6" font-size="2.8">4</tspan></text>
<line x1="389.6175" y1="295.0" x2="389.6175" y2="296.1" stroke="#555" stroke-width="0.4"/>
<line x1="392.268" y1="295.0" x2="392.268" y2="296.1" stroke="#555" stroke-width="0.4"/>
<line x1="394.03499999999997" y1="295.0" x2="394.03499999999997" y2="296.1" stroke="#555" stroke-width="0.4"/>
<line x1="395.5075" y1="295.0" x2="395.5075" y2="296.1" stroke="#555" stroke-width="0.4"/>
<line x1="396.6855" y1="295.0" x2="396.6855" y2="296.1" stroke="#555" stroke-width="0.4"/>
<line x1="397.71625" y1="295.0" x2="397.71625" y2="296.1" stroke="#555" stroke-width="0.4"/>
<line x1="398.4525" y1="295.0" x2="398.4525" y2="296.1" stroke="#555" stroke-width="0.4"/>
<line x1="399.18874999999997" y1="295.0" x2="399.18874999999997" y2="296.1" stroke="#555" stroke-width="0.4"/>
<line x1="404.3425" y1="295.0" x2="404.3425" y2="296.1" stroke="#555" stroke-width="0.4"/>
<line x1="406.993" y1="295.0" x2="406.993" y2="296.1" stroke="#555" stroke-width="0.4"/>
<line x1="408.76" y1="295.0" x2="408.76" y2="296.1" stroke="#555" stroke-width="0.4"/>
<line x1="410.23249999999996" y1="295.0" x2="410.23249999999996" y2="296.1" stroke="#555" stroke-width="0.4"/>
<line x1="411.4105" y1="295.0" x2="411.4105" y2="296.1" stroke="#555" stroke-width="0.4"/>
<line x1="412.44124999999997" y1="295.0" x2="412.44124999999997" y2="296.1" stroke="#555" stroke-width="0.4"/>
<line x1="413.1775" y1="295.0" x2="413.1775" y2="296.1" stroke="#555" stroke-width="0.4"/>
<line x1="413.91375" y1="295.0" x2="413.91375" y2="296.1" stroke="#555" stroke-width="0.4"/>
<line x1="419.0675" y1="295.0" x2="419.0675" y2="296.1" stroke="#555" stroke-width="0.4"/>
<line x1="421.71799999999996" y1="295.0" x2="421.71799999999996" y2="296.1" stroke="#555" stroke-width="0.4"/>
<line x1="423.485" y1="295.0" x2="423.485" y2="296.1" stroke="#555" stroke-width="0.4"/>
<line x1="424.9575" y1="295.0" x2="424.9575" y2="296.1" stroke="#555" stroke-width="0.4"/>
<line x1="426.1355" y1="295.0" x2="426.1355" y2="296.1" stroke="#555" stroke-width="0.4"/>
<line x1="427.16625" y1="295.0" x2="427.16625" y2="296.1" stroke="#555" stroke-width="0.4"/>
<line x1="427.9025" y1="295.0" x2="427.9025" y2="296.1" stroke="#555" stroke-width="0.4"/>
<line x1="428.63874999999996" y1="295.0" x2="428.63874999999996" y2="296.1" stroke="#555" stroke-width="0.4"/>
<line x1="433.79249999999996" y1="295.0" x2="433.79249999999996" y2="296.1" stroke="#555" stroke-width="0.4"/>
<line x1="436.443" y1="295.0" x2="436.443" y2="296.1" stroke="#555" stroke-width="0.4"/>
<line x1="438.21" y1="295.0" x2="438.21" y2="296.1" stroke="#555" stroke-width="0.4"/>
<line x1="439.6825" y1="295.0" x2="439.6825" y2="296.1" stroke="#555" stroke-width="0.4"/>
<line x1="440.8605" y1="295.0" x2="440.8605" y2="296.1" stroke="#555" stroke-width="0.4"/>
<line x1="441.89125" y1="295.0" x2="441.89125" y2="296.1" stroke="#555" stroke-width="0.4"/>
<line x1="442.6275" y1="295.0" x2="442.6275" y2="296.1" stroke="#555" stroke-width="0.4"/>
<line x1="443.36375" y1="295.0" x2="443.36375" y2="296.1" stroke="#555" stroke-width="0.4"/>
<text x="442.9" y="254.2" font-size="12" text-anchor="end" font-weight="normal" >69%</text>
<rect x="449.4" y="241.8" width="59.6" height="53.2" fill="#fff" stroke="#9a9a9a" stroke-width="0.9"/>
<line x1="449.4" y1="241.8" x2="449.4" y2="295.0" stroke="#5a5a5a" stroke-width="1.0"/>
<polygon points="451.9,295.0 453.4,294.0 454.8,289.5 455.7,283.9 456.5,273.9 457.2,264.4 457.8,253.2 458.3,244.9 458.8,242.2 461.2,242.2 461.7,244.9 462.2,254.2 462.8,264.6 463.5,272.9 464.5,279.1 465.6,283.3 467.4,287.9 469.8,290.5 473.4,292.4 476.4,293.1 479.4,294.0 482.4,295.0" fill="#c8c8c8" stroke="#5c5c5c" stroke-width="0.75"/>
<polyline points="449.4,294.6 454.1,294.3 455.4,294.0 456.8,293.4 458.2,291.8 459.5,290.1 460.9,287.8 462.2,285.5 463.8,284.1 465.6,283.5 466.6,283.9 467.6,281.8 468.6,279.5 469.6,278.6 470.6,277.7 471.6,276.6 472.6,272.4 473.6,267.9 474.4,264.6 475.0,263.2 476.0,262.1 477.0,262.4 477.7,265.1 478.3,267.2 479.4,271.5 480.4,275.3 481.4,279.5 482.4,283.5 483.4,287.2 484.4,290.1 485.4,292.2 486.4,293.4 489.4,294.3 494.4,294.5 509.0,294.6" fill="none" stroke="#000" stroke-width="1.35" stroke-linejoin="round"/>
<line x1="448.9" y1="295.0" x2="509.5" y2="295.0" stroke="#000" stroke-width="1.3"/>
<line x1="449.9" y1="295.0" x2="449.9" y2="297.0" stroke="#222" stroke-width="0.9"/>
<text x="448.7" y="300.8" font-size="3.5" font-weight="bold" text-anchor="middle" fill="#000" style="stroke-width:0.3px">10<tspan dy="-1.6" font-size="2.8">0</tspan></text>
<line x1="464.54999999999995" y1="295.0" x2="464.54999999999995" y2="297.0" stroke="#222" stroke-width="0.9"/>
<text x="463.34999999999997" y="300.8" font-size="3.5" font-weight="bold" text-anchor="middle" fill="#000" style="stroke-width:0.3px">10<tspan dy="-1.6" font-size="2.8">1</tspan></text>
<line x1="479.2" y1="295.0" x2="479.2" y2="297.0" stroke="#222" stroke-width="0.9"/>
<text x="478.0" y="300.8" font-size="3.5" font-weight="bold" text-anchor="middle" fill="#000" style="stroke-width:0.3px">10<tspan dy="-1.6" font-size="2.8">2</tspan></text>
<line x1="493.84999999999997" y1="295.0" x2="493.84999999999997" y2="297.0" stroke="#222" stroke-width="0.9"/>
<text x="492.65" y="300.8" font-size="3.5" font-weight="bold" text-anchor="middle" fill="#000" style="stroke-width:0.3px">10<tspan dy="-1.6" font-size="2.8">3</tspan></text>
<line x1="508.5" y1="295.0" x2="508.5" y2="297.0" stroke="#222" stroke-width="0.9"/>
<text x="507.3" y="300.8" font-size="3.5" font-weight="bold" text-anchor="middle" fill="#000" style="stroke-width:0.3px">10<tspan dy="-1.6" font-size="2.8">4</tspan></text>
<line x1="454.29499999999996" y1="295.0" x2="454.29499999999996" y2="296.1" stroke="#555" stroke-width="0.4"/>
<line x1="456.93199999999996" y1="295.0" x2="456.93199999999996" y2="296.1" stroke="#555" stroke-width="0.4"/>
<line x1="458.69" y1="295.0" x2="458.69" y2="296.1" stroke="#555" stroke-width="0.4"/>
<line x1="460.155" y1="295.0" x2="460.155" y2="296.1" stroke="#555" stroke-width="0.4"/>
<line x1="461.327" y1="295.0" x2="461.327" y2="296.1" stroke="#555" stroke-width="0.4"/>
<line x1="462.35249999999996" y1="295.0" x2="462.35249999999996" y2="296.1" stroke="#555" stroke-width="0.4"/>
<line x1="463.085" y1="295.0" x2="463.085" y2="296.1" stroke="#555" stroke-width="0.4"/>
<line x1="463.8175" y1="295.0" x2="463.8175" y2="296.1" stroke="#555" stroke-width="0.4"/>
<line x1="468.945" y1="295.0" x2="468.945" y2="296.1" stroke="#555" stroke-width="0.4"/>
<line x1="471.582" y1="295.0" x2="471.582" y2="296.1" stroke="#555" stroke-width="0.4"/>
<line x1="473.34" y1="295.0" x2="473.34" y2="296.1" stroke="#555" stroke-width="0.4"/>
<line x1="474.80499999999995" y1="295.0" x2="474.80499999999995" y2="296.1" stroke="#555" stroke-width="0.4"/>
<line x1="475.977" y1="295.0" x2="475.977" y2="296.1" stroke="#555" stroke-width="0.4"/>
<line x1="477.0025" y1="295.0" x2="477.0025" y2="296.1" stroke="#555" stroke-width="0.4"/>
<line x1="477.73499999999996" y1="295.0" x2="477.73499999999996" y2="296.1" stroke="#555" stroke-width="0.4"/>
<line x1="478.4675" y1="295.0" x2="478.4675" y2="296.1" stroke="#555" stroke-width="0.4"/>
<line x1="483.59499999999997" y1="295.0" x2="483.59499999999997" y2="296.1" stroke="#555" stroke-width="0.4"/>
<line x1="486.23199999999997" y1="295.0" x2="486.23199999999997" y2="296.1" stroke="#555" stroke-width="0.4"/>
<line x1="487.99" y1="295.0" x2="487.99" y2="296.1" stroke="#555" stroke-width="0.4"/>
<line x1="489.455" y1="295.0" x2="489.455" y2="296.1" stroke="#555" stroke-width="0.4"/>
<line x1="490.62699999999995" y1="295.0" x2="490.62699999999995" y2="296.1" stroke="#555" stroke-width="0.4"/>
<line x1="491.6525" y1="295.0" x2="491.6525" y2="296.1" stroke="#555" stroke-width="0.4"/>
<line x1="492.385" y1="295.0" x2="492.385" y2="296.1" stroke="#555" stroke-width="0.4"/>
<line x1="493.11749999999995" y1="295.0" x2="493.11749999999995" y2="296.1" stroke="#555" stroke-width="0.4"/>
<line x1="498.245" y1="295.0" x2="498.245" y2="296.1" stroke="#555" stroke-width="0.4"/>
<line x1="500.88199999999995" y1="295.0" x2="500.88199999999995" y2="296.1" stroke="#555" stroke-width="0.4"/>
<line x1="502.64" y1="295.0" x2="502.64" y2="296.1" stroke="#555" stroke-width="0.4"/>
<line x1="504.10499999999996" y1="295.0" x2="504.10499999999996" y2="296.1" stroke="#555" stroke-width="0.4"/>
<line x1="505.277" y1="295.0" x2="505.277" y2="296.1" stroke="#555" stroke-width="0.4"/>
<line x1="506.3025" y1="295.0" x2="506.3025" y2="296.1" stroke="#555" stroke-width="0.4"/>
<line x1="507.03499999999997" y1="295.0" x2="507.03499999999997" y2="296.1" stroke="#555" stroke-width="0.4"/>
<line x1="507.7675" y1="295.0" x2="507.7675" y2="296.1" stroke="#555" stroke-width="0.4"/>
<text x="506.7" y="253.3" font-size="12" text-anchor="end" font-weight="normal" >78%</text>
<line x1="353.5" y1="308" x2="469" y2="308" stroke="#000" stroke-width="1.8"/>
<polygon points="475,308 466,303.8 466,312.2" fill="#000"/>
<text x="392" y="325.6" font-size="16.2" text-anchor="start" font-weight="normal" >CCR7</text>
<line x1="88.6" y1="376.29999999999995" x2="88.6" y2="587" stroke="#000" stroke-width="1.5"/>
<line x1="84.6" y1="583" x2="275.8" y2="583" stroke="#000" stroke-width="1.2"/>
<line x1="84.6" y1="514.3" x2="88.6" y2="514.3" stroke="#000" stroke-width="1.2"/>
<line x1="84.6" y1="445.6" x2="88.6" y2="445.6" stroke="#000" stroke-width="1.2"/>
<line x1="84.6" y1="376.9" x2="88.6" y2="376.9" stroke="#000" stroke-width="1.2"/>
<line x1="135.8" y1="583" x2="135.8" y2="587" stroke="#000" stroke-width="1.2"/>
<line x1="183" y1="583" x2="183" y2="587" stroke="#000" stroke-width="1.2"/>
<line x1="229.2" y1="583" x2="229.2" y2="587" stroke="#000" stroke-width="1.2"/>
<line x1="275.8" y1="583" x2="275.8" y2="587" stroke="#000" stroke-width="1.2"/>
<text transform="translate(79.0,588.7) scale(0.95,1)" font-size="14.2" text-anchor="end">0</text>
<text transform="translate(79.0,520.0) scale(0.95,1)" font-size="14.2" text-anchor="end">5</text>
<text transform="translate(79.0,451.3) scale(0.95,1)" font-size="14.2" text-anchor="end">10</text>
<text transform="translate(79.0,382.59999999999997) scale(0.95,1)" font-size="14.2" text-anchor="end">15</text>
<text transform="translate(47.6,470.5) rotate(-90)" font-size="18.2" text-anchor="middle">Migrated DCs (x10<tspan dy="-10.0" font-size="8.7">3</tspan><tspan dy="10.0">)</tspan></text>
<text x="98" y="393.3" font-size="19.1" text-anchor="start" font-weight="normal" >CXCL12</text>
<line x1="93" y1="582.1" x2="112" y2="582.1" stroke="#000" stroke-width="1.2"/>
<rect x="112.00" y="515.60" width="19.30" height="67.40" fill="#000" stroke="#000" stroke-width="1.4"/>
<line x1="121.6" y1="512.6" x2="121.6" y2="516" stroke="#000" stroke-width="1.1"/>
<line x1="118.6" y1="512.6" x2="124.6" y2="512.6" stroke="#000" stroke-width="1.1"/>
<line x1="118.6" y1="516" x2="124.6" y2="516" stroke="#000" stroke-width="1.1"/>
<line x1="139.5" y1="581.8" x2="159" y2="581.8" stroke="#000" stroke-width="1.6"/>
<rect x="159.00" y="482.70" width="19.30" height="100.30" fill="#b9b9b9" stroke="#000" stroke-width="1.4"/>
<line x1="168.6" y1="477" x2="168.6" y2="488.5" stroke="#000" stroke-width="1.35"/>
<line x1="164.79999999999998" y1="477" x2="172.4" y2="477" stroke="#000" stroke-width="1.35"/>
<line x1="164.79999999999998" y1="488.5" x2="172.4" y2="488.5" stroke="#000" stroke-width="1.35"/>
<line x1="186" y1="581.8" x2="205" y2="581.8" stroke="#000" stroke-width="1.6"/>
<rect x="205.00" y="421.50" width="19.50" height="161.50" fill="#b9b9b9" stroke="#000" stroke-width="1.4"/>
<line x1="214.7" y1="400.4" x2="214.7" y2="443.5" stroke="#000" stroke-width="1.35"/>
<line x1="210.89999999999998" y1="400.4" x2="218.5" y2="400.4" stroke="#000" stroke-width="1.35"/>
<line x1="210.89999999999998" y1="443.5" x2="218.5" y2="443.5" stroke="#000" stroke-width="1.35"/>
<rect x="233.00" y="579.30" width="19.50" height="3.20" fill="#fff" stroke="#000" stroke-width="1"/>
<rect x="252.20" y="421.80" width="18.80" height="161.20" fill="url(#hatchB)" stroke="#000" stroke-width="1.5"/>
<line x1="261.6" y1="404.8" x2="261.6" y2="439.3" stroke="#000" stroke-width="1.35"/>
<line x1="257.8" y1="404.8" x2="265.40000000000003" y2="404.8" stroke="#000" stroke-width="1.35"/>
<line x1="257.8" y1="439.3" x2="265.40000000000003" y2="439.3" stroke="#000" stroke-width="1.35"/>
<text x="0.8" y="603" font-size="16.8" text-anchor="start" font-weight="normal" >LPS</text>
<text x="0.8" y="627.6" font-size="16.7" text-anchor="start" font-weight="normal" >NOR4<tspan font-size="12.2" dx="0.6">(<tspan font-family="Liberation Serif, serif">µ</tspan>M)</tspan></text>
<text x="0.8" y="650.5" font-size="16.6" text-anchor="start" font-weight="normal" >8B-cGMP<tspan font-size="12.2" dx="0.6">(<tspan font-family="Liberation Serif, serif">µ</tspan>M)</tspan></text>
<text x="101.95" y="603.78" font-size="24" text-anchor="middle" style="stroke-width:0.22px">-</text>
<text x="149.15" y="603.78" font-size="24" text-anchor="middle" style="stroke-width:0.22px">-</text>
<text x="195.35" y="603.78" font-size="24" text-anchor="middle" style="stroke-width:0.22px">-</text>
<text x="242.25" y="603.78" font-size="24" text-anchor="middle" style="stroke-width:0.22px">-</text>
<text x="122.7" y="603.5999999999999" font-size="21.5" text-anchor="middle" style="stroke-width:0.75px">+</text>
<text x="172.4" y="603.5999999999999" font-size="21.5" text-anchor="middle" style="stroke-width:0.75px">+</text>
<text x="216.0" y="603.5999999999999" font-size="21.5" text-anchor="middle" style="stroke-width:0.75px">+</text>
<text x="263.09999999999997" y="603.5999999999999" font-size="21.5" text-anchor="middle" style="stroke-width:0.75px">+</text>
<text x="104.25" y="627.28" font-size="24" text-anchor="middle" style="stroke-width:0.22px">-</text>
<text x="124.25" y="627.28" font-size="24" text-anchor="middle" style="stroke-width:0.22px">-</text>
<text x="242.25" y="627.28" font-size="24" text-anchor="middle" style="stroke-width:0.22px">-</text>
<text x="261.95" y="627.28" font-size="24" text-anchor="middle" style="stroke-width:0.22px">-</text>
<text x="148.8" y="626.4" font-size="12.7" text-anchor="middle" font-weight="normal" >30</text>
<text x="170.3" y="626.4" font-size="12.7" text-anchor="middle" font-weight="normal" >30</text>
<text x="196.2" y="626.4" font-size="12.2" text-anchor="middle" font-weight="normal" >100</text>
<text x="219.4" y="626.4" font-size="12.2" text-anchor="middle" font-weight="normal" >100</text>
<text x="106.25" y="650.6800000000001" font-size="24" text-anchor="middle" style="stroke-width:0.22px">-</text>
<text x="125.15" y="650.6800000000001" font-size="24" text-anchor="middle" style="stroke-width:0.22px">-</text>
<text x="149.65" y="650.6800000000001" font-size="24" text-anchor="middle" style="stroke-width:0.22px">-</text>
<text x="168.25" y="650.6800000000001" font-size="24" text-anchor="middle" style="stroke-width:0.22px">-</text>
<text x="195.95" y="650.6800000000001" font-size="24" text-anchor="middle" style="stroke-width:0.22px">-</text>
<text x="217.25" y="650.6800000000001" font-size="24" text-anchor="middle" style="stroke-width:0.22px">-</text>
<text x="241.8" y="649.8" font-size="12.2" text-anchor="middle" font-weight="normal" >300</text>
<text x="265" y="649.8" font-size="12.2" text-anchor="middle" font-weight="normal" >300</text>
<line x1="327.5" y1="376.79999999999995" x2="327.5" y2="589" stroke="#000" stroke-width="1.5"/>
<line x1="323.5" y1="585" x2="518" y2="585" stroke="#000" stroke-width="1.2"/>
<line x1="323.5" y1="543.48" x2="327.5" y2="543.48" stroke="#000" stroke-width="1.2"/>
<line x1="323.5" y1="501.96" x2="327.5" y2="501.96" stroke="#000" stroke-width="1.2"/>
<line x1="323.5" y1="460.44" x2="327.5" y2="460.44" stroke="#000" stroke-width="1.2"/>
<line x1="323.5" y1="418.91999999999996" x2="327.5" y2="418.91999999999996" stroke="#000" stroke-width="1.2"/>
<line x1="323.5" y1="377.4" x2="327.5" y2="377.4" stroke="#000" stroke-width="1.2"/>
<line x1="365.5" y1="585" x2="365.5" y2="589" stroke="#000" stroke-width="1.2"/>
<line x1="403.5" y1="585" x2="403.5" y2="589" stroke="#000" stroke-width="1.2"/>
<line x1="441.7" y1="585" x2="441.7" y2="589" stroke="#000" stroke-width="1.2"/>
<line x1="479.8" y1="585" x2="479.8" y2="589" stroke="#000" stroke-width="1.2"/>
<line x1="518" y1="585" x2="518" y2="589" stroke="#000" stroke-width="1.2"/>
<text transform="translate(318.9,590.5) scale(0.92,1)" font-size="14" text-anchor="end">0</text>
<text transform="translate(318.9,548.98) scale(0.92,1)" font-size="14" text-anchor="end">5</text>
<text transform="translate(318.9,507.46) scale(0.92,1)" font-size="14" text-anchor="end">10</text>
<text transform="translate(318.9,465.94) scale(0.92,1)" font-size="14" text-anchor="end">15</text>
<text transform="translate(318.9,424.41999999999996) scale(0.92,1)" font-size="14" text-anchor="end">20</text>
<text transform="translate(318.9,382.9) scale(0.92,1)" font-size="14" text-anchor="end">25</text>
<text transform="translate(299.8,477.7) rotate(-90)" font-size="18.1" text-anchor="middle">Migrated DCs (x10<tspan dy="-10.0" font-size="8.7">3</tspan><tspan dy="10.0">)</tspan></text>
<rect x="338.30" y="383.00" width="6.80" height="7.00" fill="#b9b9b9" stroke="#000" stroke-width="1"/>
<rect x="338.30" y="402.50" width="6.80" height="7.00" fill="#000" stroke="#000" stroke-width="1"/>
<text transform="translate(348,390.6) scale(0.93,1)" font-size="12.6" font-weight="bold">CXCL12</text>
<text transform="translate(348,410) scale(0.93,1)" font-size="12.6" font-weight="bold">CCL19</text>
<rect x="333.00" y="582.60" width="12.00" height="2.40" fill="#b9b9b9" stroke="#000" stroke-width="0.9"/>
<line x1="345" y1="583.9" x2="357" y2="583.9" stroke="#000" stroke-width="1.4"/>
<rect x="372.30" y="479.00" width="12.00" height="106.00" fill="#b9b9b9" stroke="#000" stroke-width="1.4"/>
<rect x="384.30" y="576.00" width="10.50" height="9.00" fill="#000" stroke="#000" stroke-width="1"/>
<line x1="378.3" y1="467.7" x2="378.3" y2="489.3" stroke="#000" stroke-width="1.35"/>
<line x1="374.5" y1="467.7" x2="382.1" y2="467.7" stroke="#000" stroke-width="1.35"/>
<line x1="374.5" y1="489.3" x2="382.1" y2="489.3" stroke="#000" stroke-width="1.35"/>
<line x1="389.55" y1="575.2" x2="389.55" y2="576.5" stroke="#000" stroke-width="1.35"/>
<line x1="385.75" y1="575.2" x2="393.35" y2="575.2" stroke="#000" stroke-width="1.35"/>
<rect x="409.60" y="477.00" width="12.10" height="108.00" fill="#b9b9b9" stroke="#000" stroke-width="1.4"/>
<rect x="421.70" y="568.00" width="11.70" height="17.00" fill="#000" stroke="#000" stroke-width="1"/>
<line x1="415.65" y1="468.8" x2="415.65" y2="485.8" stroke="#000" stroke-width="1.35"/>
<line x1="411.84999999999997" y1="468.8" x2="419.45" y2="468.8" stroke="#000" stroke-width="1.35"/>
<line x1="411.84999999999997" y1="485.8" x2="419.45" y2="485.8" stroke="#000" stroke-width="1.35"/>
<line x1="427.54999999999995" y1="567.2" x2="427.54999999999995" y2="568.5" stroke="#000" stroke-width="1.35"/>
<line x1="423.74999999999994" y1="567.2" x2="431.34999999999997" y2="567.2" stroke="#000" stroke-width="1.35"/>
<rect x="448.50" y="403.80" width="12.00" height="181.20" fill="#b9b9b9" stroke="#000" stroke-width="1.4"/>
<rect x="460.50" y="479.00" width="11.30" height="106.00" fill="#000" stroke="#000" stroke-width="1"/>
<line x1="454.5" y1="382.5" x2="454.5" y2="423" stroke="#000" stroke-width="1.35"/>
<line x1="450.7" y1="382.5" x2="458.3" y2="382.5" stroke="#000" stroke-width="1.35"/>
<line x1="450.7" y1="423" x2="458.3" y2="423" stroke="#000" stroke-width="1.35"/>
<line x1="466.15" y1="473.7" x2="466.15" y2="479" stroke="#000" stroke-width="1.35"/>
<line x1="462.34999999999997" y1="473.7" x2="469.95" y2="473.7" stroke="#000" stroke-width="1.35"/>
<rect x="486.20" y="458.30" width="12.00" height="126.70" fill="#b9b9b9" stroke="#000" stroke-width="1.4"/>
<rect x="498.20" y="498.50" width="11.60" height="86.50" fill="#000" stroke="#000" stroke-width="1"/>
<line x1="492.2" y1="438.3" x2="492.2" y2="478" stroke="#000" stroke-width="1.35"/>
<line x1="488.4" y1="438.3" x2="496.0" y2="438.3" stroke="#000" stroke-width="1.35"/>
<line x1="488.4" y1="478" x2="496.0" y2="478" stroke="#000" stroke-width="1.35"/>
<line x1="504.0" y1="479.2" x2="504.0" y2="498.5" stroke="#000" stroke-width="1.35"/>
<line x1="500.2" y1="479.2" x2="507.8" y2="479.2" stroke="#000" stroke-width="1.35"/>
<text x="287.2" y="604.6" font-size="17" text-anchor="start" font-weight="normal" >LPS</text>
<text x="287" y="628.4" font-size="16.7" text-anchor="start" font-weight="normal" >NOR4</text>
<text x="287.2" y="651.7" font-size="16.8" text-anchor="start" font-weight="normal" >DT-3</text>
<text x="346.25" y="605.575" font-size="22.5" text-anchor="middle" style="stroke-width:0.7px">-</text>
<text x="385.09999999999997" y="605.5" font-size="21.5" text-anchor="middle" style="stroke-width:0.75px">+</text>
<text x="420.9" y="605.5" font-size="21.5" text-anchor="middle" style="stroke-width:0.75px">+</text>
<text x="462.4" y="605.5" font-size="21.5" text-anchor="middle" style="stroke-width:0.75px">+</text>
<text x="503.4" y="605.5" font-size="21.5" text-anchor="middle" style="stroke-width:0.75px">+</text>
<text x="347.95" y="629.075" font-size="22.5" text-anchor="middle" style="stroke-width:0.7px">-</text>
<text x="384.65" y="629.075" font-size="22.5" text-anchor="middle" style="stroke-width:0.7px">-</text>
<text x="420.75" y="629.075" font-size="22.5" text-anchor="middle" style="stroke-width:0.7px">-</text>
<text x="462.59999999999997" y="629.1999999999999" font-size="21.5" text-anchor="middle" style="stroke-width:0.75px">+</text>
<text x="503.79999999999995" y="629.1999999999999" font-size="21.5" text-anchor="middle" style="stroke-width:0.75px">+</text>
<text x="346.95" y="652.6750000000001" font-size="22.5" text-anchor="middle" style="stroke-width:0.7px">-</text>
<text x="383.15" y="652.6750000000001" font-size="22.5" text-anchor="middle" style="stroke-width:0.7px">-</text>
<text x="422.79999999999995" y="652.5999999999999" font-size="21.5" text-anchor="middle" style="stroke-width:0.75px">+</text>
<text x="464.25" y="652.7750000000001" font-size="22.5" text-anchor="middle" style="stroke-width:0.7px">-</text>
<text x="505.59999999999997" y="652.5999999999999" font-size="21.5" text-anchor="middle" style="stroke-width:0.75px">+</text>
</svg>
</body></html>
